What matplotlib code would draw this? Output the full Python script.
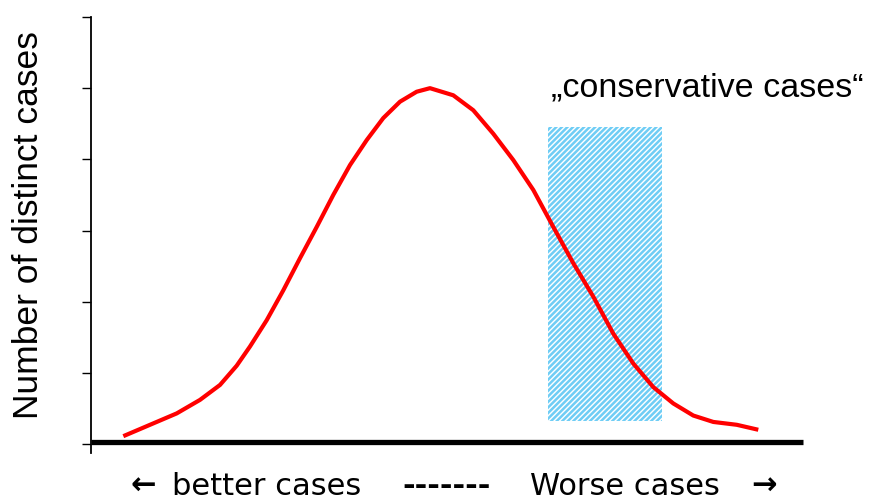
import numpy as np
import matplotlib
matplotlib.use("Agg")
import matplotlib.pyplot as plt
from matplotlib.patches import Rectangle

plt.rcParams['font.family'] = ['Liberation Sans', 'DejaVu Sans']
plt.rcParams['hatch.linewidth'] = 1.8

# curve (x: 0..100 along the axis, y: tick units)
curve_x = [4.54, 8.29, 12.04, 15.31, 18.12, 20.46, 22.33, 24.68, 27.01, 29.35,
           31.70, 34.03, 36.38, 38.72, 41.05, 43.40, 45.74, 47.61, 50.88, 53.69,
           56.50, 59.31, 62.12, 64.93, 67.74, 70.55, 73.36, 76.17, 78.97, 81.78,
           84.59, 87.40, 90.69, 93.72]
curve_y = [0.11, 0.27, 0.43, 0.62, 0.83, 1.10, 1.37, 1.74, 2.16, 2.61,
           3.05, 3.50, 3.92, 4.27, 4.58, 4.81, 4.95, 5.00, 4.90, 4.69,
           4.36, 3.99, 3.57, 3.05, 2.54, 2.07, 1.55, 1.13, 0.80, 0.57,
           0.40, 0.31, 0.27, 0.20]

# hatched "conservative" region
region_x = [64.2, 80.2]
region_y = [0.32, 4.45]

y_ticks = [0, 1, 2, 3, 4, 5, 6]

fig = plt.figure(figsize=(8.77, 5.03), dpi=100)
ax = fig.add_axes([91/877, 59/503, 712/877, 427/503])
ax.set_xlim(0, 100)
ax.set_ylim(0, 6)

for s in ['top', 'right', 'bottom']:
    ax.spines[s].set_visible(False)
ax.spines['left'].set_linewidth(1.3)
ax.spines['left'].set_bounds(-0.13, 6)

ax.set_xticks([])
ax.set_yticks(y_ticks)
ax.set_yticklabels([])
ax.tick_params(axis='y', direction='out', length=6.5, width=1)

# thick baseline
ax.plot([0, 100], [0.03, 0.03], color='black', lw=3.8, clip_on=False,
        solid_capstyle='butt')

ax.add_patch(Rectangle((region_x[0], region_y[0]), region_x[1] - region_x[0],
                       region_y[1] - region_y[0], fill=False, hatch='//////',
                       edgecolor='#6FCDF5', lw=0))

ax.plot(curve_x, curve_y, color='#FF0000', lw=3.0, solid_capstyle='butt',
        solid_joinstyle='round')

ax.text(64.6, 4.876, '\u201econservative cases\u201c', fontsize=24.5,
        ha='left', va='baseline')

fig.text(29/877, 1 - 225/503, 'Number of distinct cases', fontsize=25.5,
         rotation=90, ha='center', va='center')

# bottom direction labels
ybase = (503 - 495) / 503
bot = dict(fontsize=22, family=['DejaVu Sans'], va='baseline')
fig.text(130/877, ybase, '\u2190', ha='left', fontweight='bold', **bot)
fig.text(172.5/877, ybase, 'better cases', ha='left', **bot)
fig.text(447/877, ybase, '-------', ha='center', fontweight='bold', **bot)
fig.text(625/877, ybase, 'Worse cases', ha='center', **bot)
fig.text(777/877, ybase, '\u2192', ha='right', fontweight='bold', **bot)

fig.savefig('out.png', dpi=100)
